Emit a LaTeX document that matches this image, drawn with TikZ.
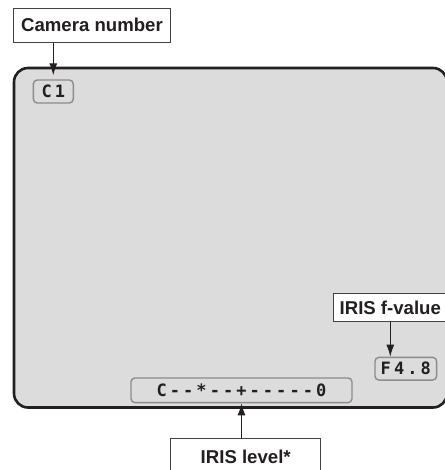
\documentclass[tikz,border=0pt]{standalone}
\usepackage{fontspec}
\setmainfont{Liberation Sans}
\newfontfamily\lcdfont[LetterSpace=18]{DejaVu Sans Mono}
\usetikzlibrary{arrows.meta}
\definecolor{scrgray}{HTML}{DCDCDC}
\definecolor{boxgray}{HTML}{8C8C8C}
\definecolor{inkc}{HTML}{231F20}
\tikzset{
  label box/.style={draw=inkc!85, line width=0.9pt, fill=white, inner sep=0pt,
    font=\fontsize{18.6}{20}\selectfont\bfseries, text=inkc},
  lcd box/.style={draw=boxgray, line width=1.4pt, fill=scrgray, rounded corners=4pt,
    inner sep=0pt, font=\fontsize{17}{19}\selectfont\lcdfont\bfseries, text=inkc},
  pointer/.style={draw=inkc, line width=1.1pt, -{Latex[length=12pt,width=8pt]}},
}
\begin{document}
\begin{tikzpicture}[x=1pt,y=-1pt]
\useasboundingbox (0,0) rectangle (444,470);
% screen
\draw[draw=inkc, line width=2.6pt, fill=scrgray, rounded corners=14pt] (14,68) rectangle (447,407.5);
% label boxes
\node[label box, minimum width=157.4pt, minimum height=34pt] (cam) at (92,25.3) {Camera number};
\node[label box, minimum width=114pt, minimum height=28.4pt, text depth=0pt] (fval) at (390.3,307.5) {IRIS f-value};
\node[label box, minimum width=150pt, minimum height=36.8pt] (level) at (245.7,456.7) {IRIS level*};
% on-screen displays
\node[lcd box, minimum width=40pt, minimum height=23pt] (c1) at (53.3,91.5) {C1};
\node[lcd box, minimum width=61.7pt, minimum height=22.7pt] (f48) at (405.8,368.7) {F4.8};
\node[lcd box, minimum width=221pt, minimum height=24.7pt] (bar) at (241.5,390.3) {C--*--+-----0};
% pointers
\draw[pointer, shorten >=4pt] (c1.north |- cam.south) -- (c1.north);
\draw[pointer] (fval.south) -- (fval.south |- f48.north);
\draw[pointer] (level.north -| bar.south) -- (bar.south);
\end{tikzpicture}
\end{document}
